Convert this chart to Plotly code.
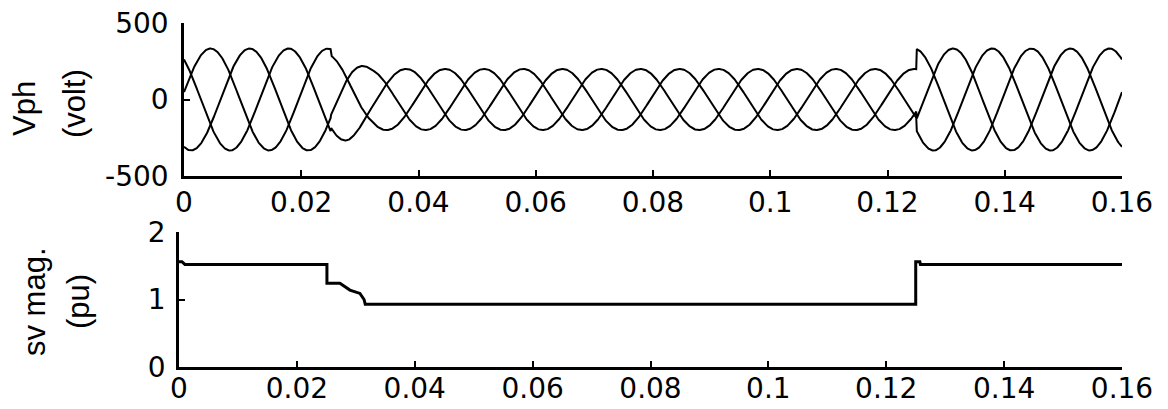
import numpy as np
import plotly.graph_objects as go

# ---- data ----
# phase-voltage envelope (peak volts) at breakpoints in time (s)
env_t = [0.0, 0.0250, 0.0251, 0.0280, 0.0320, 0.1249, 0.1250, 0.1600]
env_v = [333, 333, 290, 265, 200, 200, 333, 333]
freq_hz = 50.0
trough_time_phase_b = 0.0012      # time of first trough of phase b (s)
phase_shifts_deg = [120, 0, -120]  # phases a, b, c

# sv magnitude (pu)
sv_t = [0.0, 0.0005, 0.0010, 0.0251, 0.0251, 0.0273, 0.0290, 0.0307, 0.0314, 0.0316,
        0.1250, 0.1250, 0.1257, 0.1258, 0.1600]
sv_v = [1.56, 1.56, 1.52, 1.52, 1.24, 1.24, 1.14, 1.09, 1.00, 0.93,
        0.93, 1.56, 1.56, 1.52, 1.52]

x_ticks = [0, 0.02, 0.04, 0.06, 0.08, 0.1, 0.12, 0.14, 0.16]
x_tick_text = ["0", "0.02", "0.04", "0.06", "0.08", "0.1", "0.12", "0.14", "0.16"]
v_ticks = [-500, 0, 500]
v_tick_text = ["-500", "0", "500"]
sv_ticks = [0, 1, 2]
sv_tick_text = ["0", "1", "2"]

# ---- build waveforms ----
t = np.arange(0, 0.16 + 1e-9, 0.0001)
amp = np.interp(t, env_t, env_v)
w = 2 * np.pi * freq_hz

fig = go.Figure()
for sh in phase_shifts_deg:
    v = -amp * np.cos(w * (t - trough_time_phase_b) + np.deg2rad(sh))
    fig.add_trace(go.Scatter(x=t, y=v, mode="lines", line=dict(color="black", width=2),
                             xaxis="x", yaxis="y", showlegend=False, hoverinfo="skip"))

fig.add_trace(go.Scatter(x=sv_t, y=sv_v, mode="lines", line=dict(color="black", width=3),
                         xaxis="x2", yaxis="y2", showlegend=False, hoverinfo="skip"))

W, H = 1168, 409
tickfont = dict(family="DejaVu Sans", size=28, color="black")
common = dict(showgrid=False, zeroline=False, showline=True, linecolor="black", linewidth=2.5,
              ticks="inside", ticklen=6, tickwidth=2, tickcolor="black", tickfont=tickfont,
              automargin=False)

fig.update_layout(
    template="none",
    width=W, height=H, margin=dict(l=0, r=0, t=0, b=0, pad=0),
    paper_bgcolor="white", plot_bgcolor="white",
    xaxis=dict(domain=[184 / W, 1122 / W], range=[0, 0.16], anchor="y",
               tickvals=x_ticks, ticktext=x_tick_text, **common),
    yaxis=dict(domain=[(H - 176) / H, (H - 23) / H], range=[-500, 500], anchor="x",
               tickvals=v_ticks, ticktext=v_tick_text, ticklabelstandoff=7, **common),
    xaxis2=dict(domain=[179 / W, 1122 / W], range=[0, 0.16], anchor="y2",
                tickvals=x_ticks, ticktext=x_tick_text, ticklabelstandoff=-5, **common),
    yaxis2=dict(domain=[(H - 367) / H, (H - 232) / H], range=[0, 2], anchor="x2",
                tickvals=sv_ticks, ticktext=sv_tick_text, ticklabelstandoff=5, **common),
)

title_font = dict(family="Liberation Sans", size=31, color="black")
for txt, cx, cy in [("Vph", 25, 109), ("(volt)", 75, 104), ("sv mag.", 34, 302), ("(pu)", 78, 302)]:
    fig.add_annotation(text=txt, x=cx / W, y=(H - cy) / H, xref="paper", yref="paper",
                       textangle=-90, showarrow=False, font=title_font,
                       xanchor="center", yanchor="middle")

fig.write_html("out.html")
